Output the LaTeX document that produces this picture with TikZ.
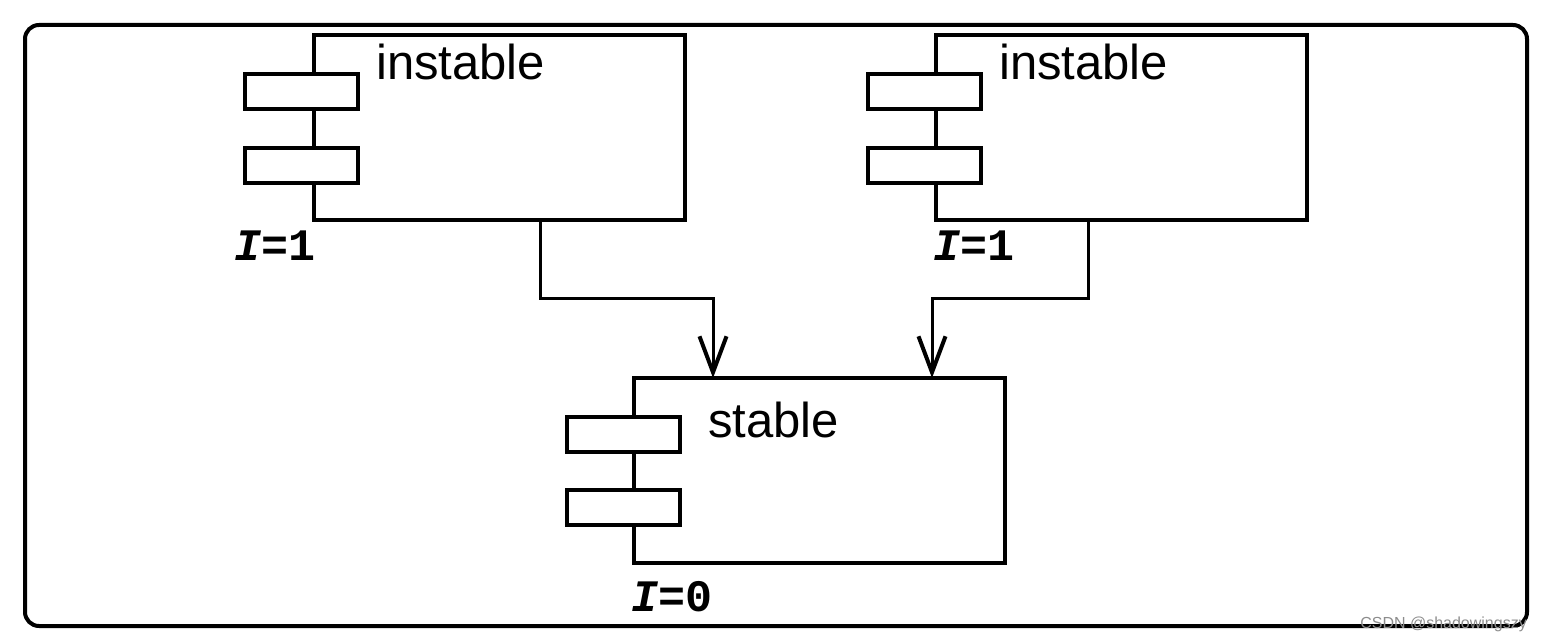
\documentclass[tikz,border=0pt]{standalone}
\usepackage{fontspec}
\setmainfont{Liberation Sans}
\newfontfamily\monof{Liberation Mono}
\usetikzlibrary{arrows.meta}
\begin{document}
\begin{tikzpicture}[x=1pt,y=-1pt,
  comp/.style={draw,line width=3.4pt,minimum width=371pt,minimum height=185pt,anchor=north west,inner sep=0pt,outer sep=0pt},
  port/.style={draw,fill=white,line width=3.4pt,minimum width=113pt,minimum height=35pt,anchor=north west,inner sep=0pt,outer sep=0pt},
  title/.style={anchor=base west,inner sep=0pt,font=\fontsize{49}{49}\selectfont},
  ilabel/.style={anchor=base west,inner sep=0pt,font=\monof\bfseries\fontsize{45}{45}\selectfont},
  conn/.style={line width=3pt,-{Straight Barb[length=36pt,width=27pt,line width=4pt]}}
]
\useasboundingbox (0,0) rectangle (1542,642);
\node[draw,line width=4pt,rounded corners=14pt,minimum width=1502pt,minimum height=601pt,anchor=north west,inner sep=0pt] (frame) at (23,23) {};
% component 1
\node[comp] (c1) at (314,35) {};
\node[port] (c1a) at (245,74) {};
\node[port] (c1b) at (245,148) {};
\node[title] (t1) at (376,80) {instable};
\node[ilabel] (l1) at (234,260) {\itshape I\upshape=1};
% component 2
\node[comp] (c2) at (936,35) {};
\node[port] (c2a) at (868,74) {};
\node[port] (c2b) at (868,148) {};
\node[title] (t2) at (999,80) {instable};
\node[ilabel] (l2) at (933,260) {\itshape I\upshape=1};
% stable component
\node[comp] (s) at (634,378) {};
\node[port] (sa) at (567,417) {};
\node[port] (sb) at (567,490) {};
\node[title] (t3) at (708,437) {stable};
\node[ilabel] (l3) at (631,611) {\itshape I\upshape=0};
% connectors
\draw[conn] ([xshift=40.5pt]c1.south) -- ++(0,78) -| ([xshift=-106.5pt]s.north);
\draw[conn] ([xshift=-33.5pt]c2.south) -- ++(0,78) -| ([xshift=112.5pt]s.north);
% watermark
\node[anchor=base east,inner sep=0pt,text=black!45,font=\fontsize{16}{16}\selectfont] (wm) at (1527,628) {CSDN @shadowingszy};
\end{tikzpicture}
\end{document}
